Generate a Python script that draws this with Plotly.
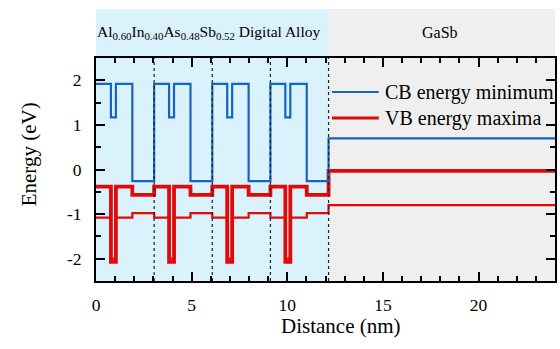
import plotly.graph_objects as go

# Layer boundaries (nm): 4 digital-alloy periods, then GaSb
layer_edges = [0, 0.78, 1.04, 1.90, 3.04,
               3.82, 4.08, 4.94, 6.08,
               6.86, 7.12, 7.98, 9.12,
               9.90, 10.16, 11.02, 12.16,
               24.0]
# Band levels (eV) in each layer
cb_min = [1.92, 1.17, 1.92, -0.26,
          1.92, 1.17, 1.92, -0.26,
          1.92, 1.17, 1.92, -0.26,
          1.92, 1.17, 1.92, -0.26,
          0.70]
vb_heavy = [-0.385, -2.07, -0.385, -0.57,
            -0.385, -2.07, -0.385, -0.57,
            -0.385, -2.07, -0.385, -0.57,
            -0.385, -2.07, -0.385, -0.57,
            -0.03]
vb_light = [-1.08, -2.00, -1.08, -0.98,
            -1.08, -2.00, -1.08, -0.98,
            -1.08, -2.00, -1.08, -0.98,
            -1.08, -2.00, -1.08, -0.98,
            -0.80]
period_bounds = [3.04, 6.08, 9.12, 12.16]
alloy_end = 12.16
x_max = 24.0
x_ticks = [0, 5, 10, 15, 20]
y_ticks = [-2, -1, 0, 1, 2]
y_tick_labels = ["-2", "-1", "0", "1", "2"]
series_names = ["CB energy minimum", "VB energy maxima"]
region_labels = ["Al<sub>0.60</sub>In<sub>0.40</sub>As<sub>0.48</sub>Sb<sub>0.52</sub> Digital Alloy", "GaSb"]

BLUE = "#1763c2"
RED = "#e00a0a"
ALLOY_BG = "#daf2fb"
GASB_BG = "#efefef"
FONT = "Liberation Serif, Times New Roman, serif"

fig = go.Figure()

def step(levels):
    return levels + [levels[-1]]

fig.add_trace(go.Scatter(x=layer_edges, y=step(vb_light), mode="lines", line_shape="hv",
                         line=dict(color=RED, width=2.2), showlegend=False, hoverinfo="skip"))
fig.add_trace(go.Scatter(x=layer_edges, y=step(vb_heavy), mode="lines", line_shape="hv",
                         line=dict(color=RED, width=3.8), showlegend=False, hoverinfo="skip"))
fig.add_trace(go.Scatter(x=layer_edges, y=step(cb_min), mode="lines", line_shape="hv",
                         line=dict(color=BLUE, width=2.2), showlegend=False, hoverinfo="skip"))

shapes = []
shapes.append(dict(type="rect", xref="x", yref="paper", x0=0, x1=alloy_end, y0=0, y1=1,
                   fillcolor=ALLOY_BG, line_width=0, layer="below"))
shapes.append(dict(type="rect", xref="x", yref="paper", x0=alloy_end, x1=x_max, y0=0, y1=1,
                   fillcolor=GASB_BG, line_width=0, layer="below"))
hdr_top = 1 + (58 - 9) / 223
shapes.append(dict(type="rect", xref="x", yref="paper", x0=-0.05, x1=alloy_end, y0=1, y1=hdr_top,
                   fillcolor=ALLOY_BG, line_width=0, layer="below"))
shapes.append(dict(type="rect", xref="x", yref="paper", x0=alloy_end, x1=x_max + 0.1, y0=1, y1=hdr_top,
                   fillcolor=GASB_BG, line_width=0, layer="below"))
for xb in period_bounds:
    shapes.append(dict(type="line", xref="x", yref="paper", x0=xb, x1=xb, y0=0, y1=1,
                       line=dict(color="#222222", width=1.2, dash="dot"), layer="above"))
leg_y = [(281 - 92) / 223, (281 - 118) / 223]
leg_x0, leg_x1 = (333 - 96) / 461, (380 - 96) / 461
shapes.append(dict(type="line", xref="paper", yref="paper", x0=leg_x0, x1=leg_x1, y0=leg_y[0], y1=leg_y[0],
                   line=dict(color=BLUE, width=2.2)))
shapes.append(dict(type="line", xref="paper", yref="paper", x0=leg_x0, x1=leg_x1, y0=leg_y[1], y1=leg_y[1],
                   line=dict(color=RED, width=3.2)))

annotations = []
hdr_mid = 1 + (58 - 33) / 223
annotations.append(dict(text=region_labels[0], x=5.9, y=hdr_mid, xref="x", yref="paper",
                        showarrow=False, font=dict(family=FONT, size=15.5, color="black"),
                        xanchor="center", yanchor="middle"))
annotations.append(dict(text=region_labels[1], x=(alloy_end + x_max) / 2 - 0.1, y=hdr_mid, xref="x", yref="paper",
                        showarrow=False, font=dict(family=FONT, size=16, color="black"),
                        xanchor="center", yanchor="middle"))
for name, yy in zip(series_names, leg_y):
    annotations.append(dict(text=name, x=(384 - 96) / 461, y=yy, xref="paper", yref="paper",
                            showarrow=False, font=dict(family=FONT, size=20, color="black"),
                            xanchor="left", yanchor="middle"))
annotations.append(dict(text="Energy (eV)", x=(29 - 96) / 461, y=(281 - 154) / 223, xref="paper", yref="paper",
                        showarrow=False, textangle=-90, font=dict(family=FONT, size=21, color="black"),
                        xanchor="center", yanchor="middle"))
annotations.append(dict(text="Distance (nm)", x=(342 - 96) / 461, y=(281 - 326) / 223, xref="paper", yref="paper",
                        showarrow=False, font=dict(family=FONT, size=21, color="black"),
                        xanchor="center", yanchor="middle"))

axis_common = dict(showline=True, linecolor="black", linewidth=2, mirror="allticks",
                   ticks="inside", tickcolor="black", tickwidth=1.5, ticklen=9,
                   showgrid=False, zeroline=False,
                   tickfont=dict(family=FONT, size=17.5, color="black"))

fig.update_layout(
    width=560, height=349,
    margin=dict(l=96, r=3, t=58, b=68),
    font=dict(family=FONT, size=17.5, color="black"),
    paper_bgcolor="white", plot_bgcolor="white",
    shapes=shapes, annotations=annotations,
    showlegend=False,
    xaxis=dict(range=[0, x_max], tickmode="array", tickvals=x_ticks,
               minor=dict(dtick=1, ticks="inside", ticklen=5, tickcolor="black", tickwidth=1.5),
               ticklabelstandoff=7, **axis_common),
    yaxis=dict(range=[-2.5, 2.5], tickmode="array", tickvals=y_ticks, ticktext=y_tick_labels,
               minor=dict(dtick=0.5, ticks="inside", ticklen=5, tickcolor="black", tickwidth=1.5),
               ticklabelstandoff=9, **axis_common),
)

fig.write_html("out.html", config={"displayModeBar": False},
               post_script="document.body.style.margin='0px';")
